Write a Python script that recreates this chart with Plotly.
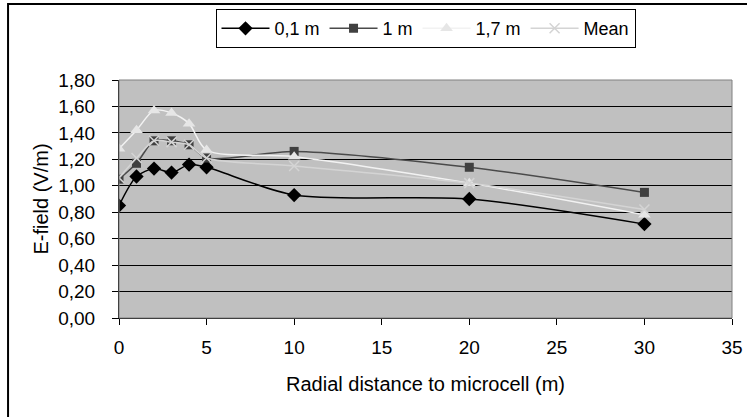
import plotly.graph_objects as go

# radial distances (m)
distance = [0, 1, 2, 3, 4, 5, 10, 20, 30]

# E-field (V/m) at each measuring height
field_01 = [0.85, 1.07, 1.13, 1.10, 1.16, 1.14, 0.93, 0.90, 0.71]
field_1 = [1.05, 1.17, 1.34, 1.34, 1.31, 1.21, 1.26, 1.14, 0.95]
field_17 = [1.28, 1.42, 1.57, 1.55, 1.47, 1.27, 1.22, 1.02, 0.78]
field_mean = [1.06, 1.21, 1.34, 1.33, 1.31, 1.21, 1.15, 1.02, 0.82]

FONT = "Liberation Sans, Arial, sans-serif"

series = [
    ("0,1 m", field_01, "#000000", "diamond", 11, "#000000"),
    ("1 m", field_1, "#4a4a4a", "square", 9, "#404040"),
    ("1,7 m", field_17, "#f2f2f2", "triangle-up", 11, "#e6e6e6"),
    ("Mean", field_mean, "#d4d4d4", "x-thin", 10, "#d4d4d4"),
]

fig = go.Figure()
for name, vals, lcol, sym, size, mcol in series:
    marker = dict(symbol=sym, size=size, color=mcol)
    if sym == "x-thin":
        marker["line"] = dict(color=mcol, width=1.5)
    fig.add_trace(go.Scatter(
        x=distance, y=vals, name=name, mode="lines+markers",
        line=dict(color=lcol, width=1.5, shape="spline", smoothing=0.8),
        marker=marker,
    ))

fig.update_layout(
    width=747, height=417,
    margin=dict(l=119, r=15, t=80, b=99, autoexpand=False),
    paper_bgcolor="white",
    plot_bgcolor="#c0c0c0",
    separators=",.",
    font=dict(family=FONT, size=19, color="black"),
    showlegend=True,
    legend=dict(
        orientation="h", x=0.5, xanchor="center", y=1.298, yanchor="top",
        bgcolor="white", bordercolor="black", borderwidth=1,
        font=dict(size=18), itemwidth=48,
    ),
    shapes=[
        # plot area frame
        dict(type="rect", xref="paper", yref="paper", x0=0, x1=1, y0=0, y1=1,
             line=dict(color="#808080", width=1)),
        # outer chart frame (only top and left fall inside the picture)
        dict(type="rect", xref="paper", yref="paper", x0=-0.181, x1=1.2,
             y0=-0.6, y1=1.319, line=dict(color="black", width=2)),
    ],
)

fig.update_xaxes(
    range=[0, 35], dtick=5, showgrid=False, zeroline=False, automargin=False,
    showline=True, linecolor="black", linewidth=1,
    ticks="outside", ticklen=6, tickcolor="black", ticklabelstandoff=6,
    title=dict(text="Radial distance to microcell (m)", standoff=20,
               font=dict(size=20)),
)
fig.update_yaxes(
    range=[0, 1.8], dtick=0.2, tickformat=".2f", automargin=False,
    showgrid=True, gridcolor="black", gridwidth=1, zeroline=False,
    showline=True, linecolor="black", linewidth=1,
    ticks="outside", ticklen=6, tickcolor="black", ticklabelstandoff=13,
    title=dict(text="E-field (V/m)", standoff=4, font=dict(size=20)),
)

# drop the browser's default page margin so the chart sits at the corner
fig.write_html("out.html", config={"displayModeBar": False},
               post_script="document.body.style.margin='0';")
